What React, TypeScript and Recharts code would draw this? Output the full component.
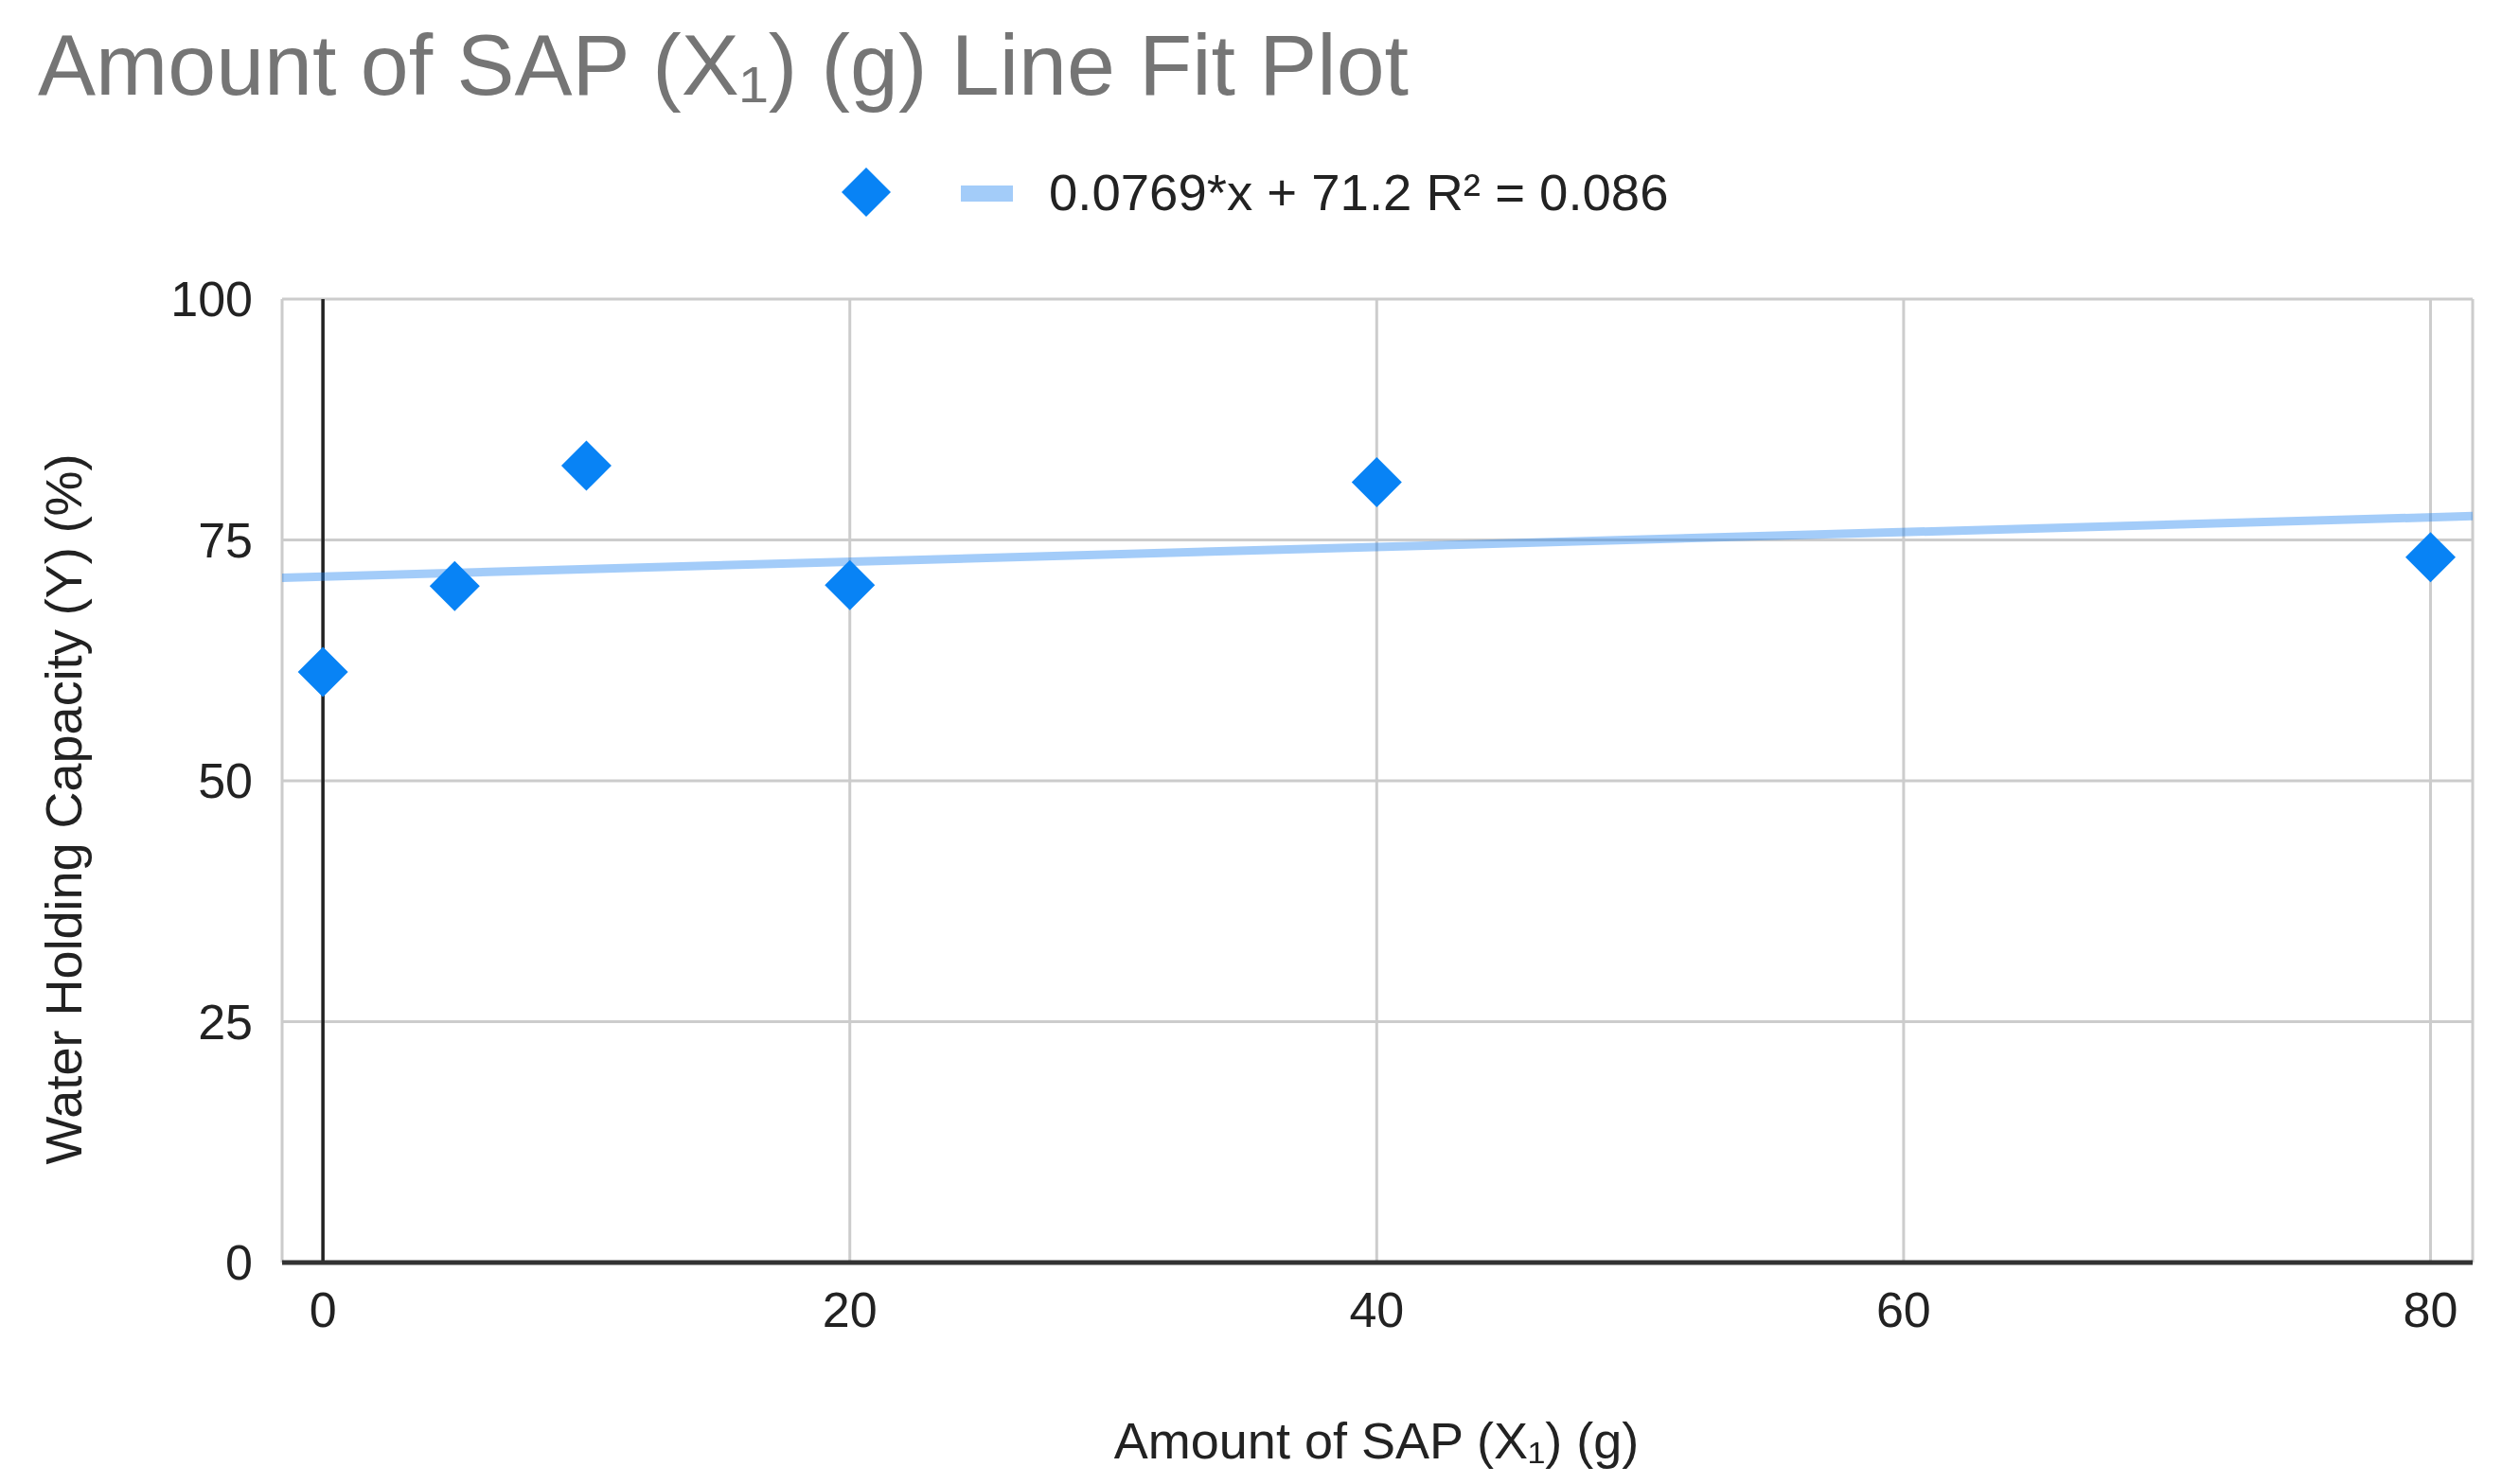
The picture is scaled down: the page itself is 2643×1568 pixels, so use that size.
import { ScatterChart, Scatter, XAxis, YAxis, CartesianGrid, ReferenceLine } from 'recharts';

// SAP amount (g) vs water holding capacity (%)
const sapAmount = [0, 5, 10, 20, 40, 80];
const waterHolding = [61.3, 70.2, 82.7, 70.3, 81.0, 73.2];

// trendline ends
const trendX = [-1.55, 81.6];
const trendY = [71.08, 77.47];

const xTicks = [0, 20, 40, 60, 80];
const yTicks = [0, 25, 50, 75, 100];

const title = 'Amount of SAP (X\u2081) (g) Line Fit Plot';
const xTitle = 'Amount of SAP (X\u2081) (g)';
const yTitle = 'Water Holding Capacity (Y) (%)';
const legendText = '0.0769*x + 71.2 R\u00b2 = 0.086';

const points = sapAmount.map((x, i) => ({ x, y: waterHolding[i] }));
const trend = trendX.map((x, i) => ({ x, y: trendY[i] }));

const font = "Arial, 'Liberation Sans', sans-serif";
const pointColor = '#0883f5';
const trendColor = '#1a7ff0';

const Diamond = (props: any) => {
  const { cx, cy } = props;
  const r = 26.5;
  return (
    <polygon
      points={`${cx},${cy - r} ${cx + r},${cy} ${cx},${cy + r} ${cx - r},${cy}`}
      fill={pointColor}
    />
  );
};

const NoDot = () => <g />;

const App = () => {
  return (
    <div style={{ position: 'relative', width: 2643, height: 1568, background: '#fff', fontFamily: font }}>
      <style>{'body{margin:0}'}</style>
      <ScatterChart
        width={2643}
        height={1568}
        margin={{ top: 316, right: 31, bottom: 0, left: 0 }}
      >
        <CartesianGrid stroke="#cccccc" strokeWidth={3} />
        <XAxis
          type="number"
          dataKey="x"
          domain={[trendX[0], trendX[1]]}
          ticks={xTicks}
          allowDataOverflow
          height={234}
          tickLine={false}
          tickSize={0}
          tickMargin={31}
          axisLine={{ stroke: '#333', strokeWidth: 5 }}
          tick={{ fill: '#222', fontSize: 52, fontFamily: font }}
        />
        <YAxis
          type="number"
          dataKey="y"
          domain={[0, 100]}
          ticks={yTicks}
          width={298}
          axisLine={false}
          tickLine={false}
          tickSize={0}
          tickMargin={31}
          tick={{ fill: '#222', fontSize: 52, fontFamily: font }}
        />
        <ReferenceLine x={0} stroke="#222" strokeWidth={3.5} />
        <Scatter
          data={trend}
          line={{ stroke: trendColor, strokeWidth: 9, strokeOpacity: 0.4 }}
          lineType="joint"
          shape={NoDot}
          isAnimationActive={false}
        />
        <Scatter data={points} shape={Diamond} isAnimationActive={false} />
      </ScatterChart>

      <svg
        width={2643}
        height={1568}
        style={{ position: 'absolute', left: 0, top: 0, pointerEvents: 'none' }}
      >
        <text x={40} y={100} fontSize={91.5} fill="#757575" fontFamily={font}>
          {title}
        </text>
        <polygon points="915,177 941,203 915,229 889,203" fill={pointColor} />
        <rect x={1015} y={196} width={55} height={17} fill={trendColor} fillOpacity={0.4} />
        <text x={1108} y={222} fontSize={54.5} fill="#222" fontFamily={font}>
          {legendText}
        </text>
        <text x={1454} y={1541} fontSize={54} fill="#222" textAnchor="middle" fontFamily={font}>
          {xTitle}
        </text>
        <text
          x={86}
          y={855}
          fontSize={54}
          fill="#222"
          textAnchor="middle"
          transform="rotate(-90 86 855)"
          fontFamily={font}
        >
          {yTitle}
        </text>
      </svg>
    </div>
  );
};

export default App;
